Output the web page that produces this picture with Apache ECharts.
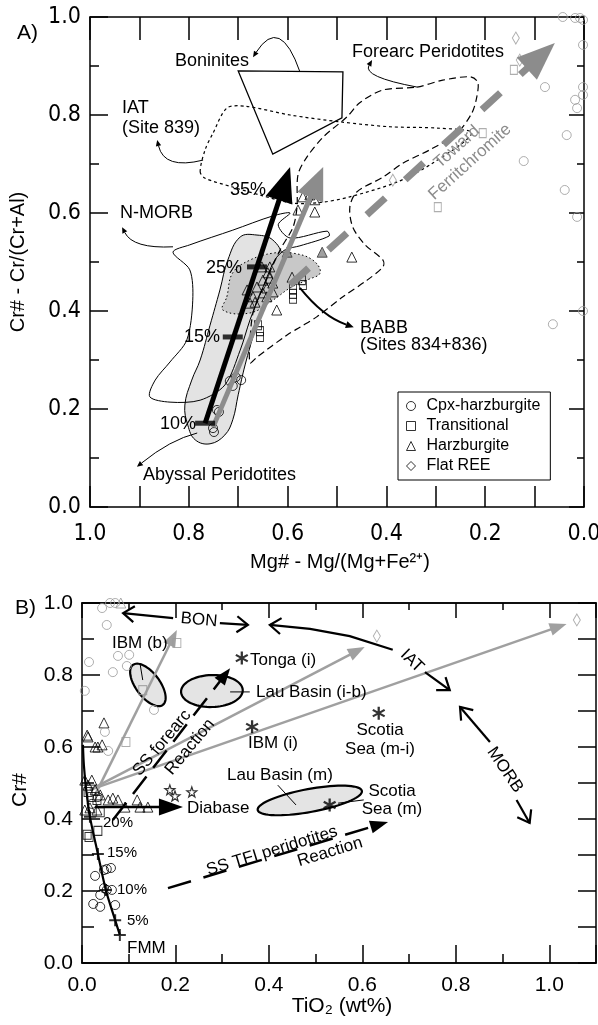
<!DOCTYPE html>
<html>
<head>
<meta charset="utf-8">
<script src="https://cdn.jsdelivr.net/npm/echarts@6.0.0/dist/echarts.min.js"></script>
<style>html,body{margin:0;padding:0;background:#fff}#main{width:598px;height:1025px}</style>
</head>
<body>
<div id="main"></div>
<script>
// ---------- Panel A : Mg# (x, reversed) vs Cr# (y) ----------
var aCpxHarz = [[0.705,0.265],[0.694,0.259],[0.711,0.247],[0.717,0.257],[0.743,0.198],[0.739,0.194],[0.751,0.161],[0.749,0.153]];
var aTransitional = [[0.660,0.371],[0.656,0.359],[0.656,0.347],[0.589,0.445],[0.589,0.435],[0.589,0.425],[0.571,0.463],[0.569,0.453]];
var aHarzburgite = [[0.652,0.490],[0.636,0.490],[0.640,0.478],[0.650,0.463],[0.636,0.467],[0.630,0.457],[0.662,0.449],[0.682,0.443],
  [0.642,0.447],[0.630,0.439],[0.650,0.437],[0.642,0.429],[0.670,0.429],[0.666,0.418],[0.676,0.416],[0.622,0.402],[0.591,0.469],
  [0.569,0.633],[0.545,0.627],[0.579,0.606],[0.545,0.602],[0.470,0.510],[0.555,0.637]];
var aHarzGrayFill = [[0.601,0.520],[0.530,0.520]];
var aCpxGray = [[0.043,1.000],[0.018,0.998],[0.008,0.998],[0.002,0.994],[0.002,0.943],[0.079,0.857],[0.002,0.857],[0.018,0.831],
  [0.014,0.814],[0.002,0.841],[0.035,0.759],[0.122,0.706],[0.039,0.647],[0.014,0.592],[0.063,0.373],[0.002,0.400]];
var aTransGray = [[0.142,0.892],[0.205,0.763],[0.296,0.612]];
var aFlatREE = [[0.138,0.957],[0.130,0.912],[0.387,0.667]];

// fields
var aBoninites = [[0.700,0.890],[0.488,0.888],[0.490,0.794],[0.630,0.720]];
var aIAT = [[0.777,0.684],[0.767,0.729],[0.751,0.763],[0.723,0.814],[0.686,0.818],[0.595,0.800],[0.494,0.786],[0.393,0.776],
  [0.292,0.773],[0.227,0.763],[0.306,0.702],[0.379,0.663],[0.474,0.633],[0.530,0.622],[0.589,0.620],[0.650,0.635],[0.711,0.653],[0.767,0.671]];
var aForearc = [[0.338,0.857],[0.286,0.871],[0.231,0.878],[0.215,0.867],[0.217,0.837],[0.227,0.804],[0.257,0.763],[0.312,0.729],
  [0.366,0.702],[0.407,0.673],[0.460,0.643],[0.474,0.612],[0.468,0.571],[0.443,0.535],[0.407,0.504],[0.407,0.490],[0.439,0.463],
  [0.488,0.429],[0.541,0.388],[0.575,0.367],[0.601,0.351],[0.662,0.306],[0.676,0.294],[0.676,0.341],[0.670,0.396],[0.652,0.443],
  [0.615,0.525],[0.589,0.571],[0.581,0.612],[0.579,0.678],[0.561,0.714],[0.528,0.755],[0.480,0.796],[0.454,0.825],[0.407,0.851]];
var aNMORB = [[0.879,0.225],[0.868,0.259],[0.838,0.296],[0.804,0.341],[0.792,0.422],[0.798,0.484],[0.832,0.520],[0.798,0.535],
  [0.711,0.565],[0.630,0.594],[0.595,0.600],[0.619,0.576],[0.595,0.549],[0.520,0.563],[0.516,0.553],[0.575,0.533],[0.605,0.525],
  [0.626,0.504],[0.652,0.443],[0.676,0.382],[0.696,0.320],[0.727,0.249],[0.777,0.218],[0.838,0.214]];
var aAbyssal = [[0.696,0.551],[0.662,0.555],[0.630,0.545],[0.611,0.510],[0.626,0.474],[0.646,0.422],[0.666,0.361],[0.686,0.290],
  [0.700,0.229],[0.711,0.178],[0.727,0.147],[0.757,0.129],[0.787,0.137],[0.802,0.167],[0.808,0.208],[0.794,0.259],[0.777,0.300],
  [0.757,0.371],[0.737,0.443],[0.721,0.504]];
var aBABB = [[0.723,0.429],[0.711,0.478],[0.676,0.504],[0.630,0.518],[0.589,0.518],[0.549,0.504],[0.534,0.478],[0.561,0.463],
  [0.595,0.447],[0.630,0.422],[0.676,0.396],[0.731,0.402]];

// trends
var aMeltTrend = [[0.767,0.171],[0.595,0.694]];
var aMeltTicks = [[0.767,0.171],[0.711,0.347],[0.662,0.490]];
var aGrayTrend = [[0.751,0.163],[0.528,0.694]];
var aFerriTrend = [[0.595,0.453],[0.059,0.947]];

// leaders: start, control, end
var aLeadBon = [[0.575,0.888],[0.615,1.004],[0.670,0.918]];
var aLeadIAT = [[0.771,0.708],[0.850,0.688],[0.864,0.749]];
var aLeadFore = [[0.338,0.857],[0.449,0.878],[0.429,0.912]];
var aLeadMorb = [[0.832,0.531],[0.913,0.527],[0.935,0.571]];
var aLeadAbys = [[0.783,0.151],[0.838,0.137],[0.905,0.082]];
var aLeadBabb = [[0.575,0.447],[0.528,0.388],[0.466,0.367]];

// ---------- Panel B : TiO2 (x) vs Cr# (y) ----------
var bCpxHarz = [[0.028,0.242],[0.039,0.189],[0.024,0.164],[0.039,0.156],[0.071,0.161],[0.053,0.261],[0.062,0.264],[0.047,0.258],
  [0.053,0.203],[0.064,0.203],[0.047,0.208],[0.034,0.461],[0.021,0.442]];
var bTransitional = [[0.021,0.461],[0.032,0.453],[0.013,0.475],[0.011,0.356],[0.015,0.350],[0.034,0.367],[0.039,0.419]];
var bHarzburgite = [[0.047,0.667],[0.011,0.633],[0.034,0.600],[0.043,0.606],[0.028,0.600],[0.013,0.628],[0.006,0.508],[0.021,0.508],
  [0.013,0.494],[0.056,0.453],[0.066,0.458],[0.077,0.453],[0.118,0.453],[0.124,0.433],[0.141,0.433],[0.092,0.433],[0.006,0.425],
  [0.017,0.431],[0.032,0.425],[0.028,0.481],[0.039,0.467]];
var bCpxGray = [[0.043,0.986],[0.060,1.000],[0.071,1.000],[0.053,0.939],[0.015,0.836],[0.077,0.853],[0.101,0.856],[0.096,0.825],
  [0.066,0.808],[0.006,0.756],[0.154,0.703],[0.049,0.642],[0.056,0.589]];
var bTransGray = [[0.203,0.889],[0.130,0.758],[0.094,0.614]];
var bHarzGray = [[0.083,1.000]];
var bFlatREE = [[0.631,0.908],[1.059,0.953]];
var bDiabase = [[0.188,0.481],[0.199,0.464],[0.235,0.475]];
var bGlassNames = ['Tonga (i)', 'IBM (i)', 'Scotia Sea (m-i)', 'Scotia Sea (m)'];
var bGlassAvg = [[0.342,0.847],[0.364,0.656],[0.635,0.694],[0.530,0.439]];
var bFmmCurve = [[0.081,0.078],[0.071,0.119],[0.051,0.203],[0.034,0.303],[0.017,0.406],[0.009,0.481],[0.004,0.550],[0.002,0.606]];
var bFmmTicks = [[0.081,0.078],[0.071,0.119],[0.051,0.203],[0.034,0.303],[0.017,0.406]];
var bFmmLabels = ['FMM', '5%', '10%', '15%', '20%'];

// fields as long-axis end points
var bIbmB = [[0.109,0.828],[0.173,0.717]];
var bLauIB = [[0.212,0.753],[0.344,0.758]];
var bLauM = [[0.376,0.425],[0.599,0.478]];

// trends
var bToIbmB = [[0.028,0.467],[0.203,0.925]];
var bToTonga = [[0.017,0.481],[0.605,0.878]];
var bToFar = [[0.017,0.481],[1.037,0.942]];
var bDiabaseArrow = [[0.028,0.433],[0.216,0.433]];
var bForearcReaction = [[0.066,0.397],[0.317,0.819]];
var bTfiReaction = [[0.184,0.208],[0.655,0.392]];
var bBonLeft = [[0.195,0.958],[0.088,0.972]];
var bBonRight = [[0.295,0.944],[0.355,0.939]];
var bIatLeft = [[0.665,0.870],[0.573,0.908],[0.488,0.928],[0.402,0.939]];
var bIatRight = [[0.734,0.808],[0.787,0.758]];
var bMorbUp = [[0.873,0.614],[0.809,0.711]];
var bMorbDown = [[0.930,0.453],[0.958,0.389]];
var bLeaders = [
  [[0.124,0.833],[0.130,0.786]],
  [[0.317,0.753],[0.359,0.753]],
  [[0.419,0.494],[0.458,0.439]],
  [[0.548,0.444],[0.603,0.453]]
];

var SANS = "'Liberation Sans', Arial, sans-serif";
var NARROW = "'Liberation Sans Narrow', 'Arial Narrow', 'DejaVu Sans Condensed', sans-serif";
var GRAY = '#8c8c8c';
var LIGHT = '#9a9a9a';
var STAR = 'path://M0,-10L2.351,-3.236L9.511,-3.09L3.804,1.236L5.878,8.09L0,4L-5.878,8.09L-3.804,1.236L-9.511,-3.09L-2.351,-3.236Z';
var ASTER = 'path://M-1,-6L1,-6L1,6L-1,6Z M4.696,-3.866L5.696,-2.134L-4.696,3.866L-5.696,2.134Z M5.696,2.134L4.696,3.866L-5.696,-2.134L-4.696,-3.866Z';
var PLUS = 'path://M-6,-1L6,-1L6,1L-6,1Z M-1,-6L1,-6L1,6L-1,6Z';

var myChart = echarts.init(document.getElementById('main'));

function hollow(c) { return { color: 'rgba(0,0,0,0)', borderColor: c, borderWidth: 1 }; }

function valueAxis(o) {
  return {
    type: 'value', gridIndex: o.grid, position: o.pos, min: 0, max: o.max, interval: o.interval, inverse: !!o.inverse,
    axisLine: { show: true, onZero: false, lineStyle: { color: '#000', width: 1.5 } },
    axisTick: { show: true, inside: true, length: o.tick, lineStyle: { color: '#000', width: 1.5 } },
    minorTick: { show: !!o.minor, splitNumber: 2, length: o.minor || 0, lineStyle: { color: '#000', width: 1.5 } },
    splitLine: { show: false }, minorSplitLine: { show: false },
    axisLabel: o.label ? { show: true, margin: o.margin, color: '#000', fontSize: o.size, fontFamily: o.font, formatter: o.label } : { show: false },
    silent: true
  };
}

function scatter(name, grid, data, symbol, size, style, z) {
  return { name: name, type: 'scatter', xAxisIndex: grid, yAxisIndex: grid, data: data, symbol: symbol, symbolSize: size,
    itemStyle: style, clip: false, silent: true, z: z || 5, animation: false };
}

function drawing(grid, z, draw) {
  return { type: 'custom', xAxisIndex: grid, yAxisIndex: grid, z: z, silent: true, animation: false,
    data: [[0.5, 0.5]], renderItem: function (params, api) { return { type: 'group', children: draw(api) }; } };
}

function region(pts, style, smooth) {
  return function (api) {
    return [{ type: 'polygon', shape: { points: pts.map(function (p) { return api.coord(p); }), smooth: smooth || 0 }, style: style }];
  };
}

function arrowEls(api, pts, o) {
  var p = pts.map(function (q) { return api.coord(q); });
  var n = p.length, a = p[n - 2], b = p[n - 1];
  var dx = b[0] - a[0], dy = b[1] - a[1], L = Math.sqrt(dx * dx + dy * dy), ux = dx / L, uy = dy / L;
  var bx = b[0] - ux * o.head, by = b[1] - uy * o.head, w = o.wid / 2;
  var left = [bx - uy * w, by + ux * w], right = [bx + uy * w, by - ux * w];
  var line = p.slice();
  if (o.fill) line[n - 1] = [bx + ux * 2, by + uy * 2];
  var els = [{ type: 'polyline', shape: { points: line }, style: { stroke: o.color, lineWidth: o.width, lineDash: o.dash || null, fill: null } }];
  if (o.fill) els.push({ type: 'polygon', shape: { points: [b, left, right] }, style: { fill: o.color } });
  else els.push({ type: 'polyline', shape: { points: [left, b, right] }, style: { stroke: o.color, lineWidth: o.width, fill: null } });
  return els;
}

function leaderEls(api, l, w, head) {
  var p0 = api.coord(l[0]), c = api.coord(l[1]), p1 = api.coord(l[2]);
  var dx = p1[0] - c[0], dy = p1[1] - c[1], L = Math.sqrt(dx * dx + dy * dy), ux = dx / L, uy = dy / L;
  var bx = p1[0] - ux * head, by = p1[1] - uy * head, hw = head * 0.45;
  return [
    { type: 'bezierCurve', shape: { x1: p0[0], y1: p0[1], cpx1: c[0], cpy1: c[1], x2: bx, y2: by }, style: { stroke: '#000', lineWidth: w, fill: null } },
    { type: 'polygon', shape: { points: [p1, [bx - uy * hw, by + ux * hw], [bx + uy * hw, by - ux * hw]] }, style: { fill: '#000' } }
  ];
}

function ellipseEls(api, ends, minor) {
  var a = api.coord(ends[0]), b = api.coord(ends[1]);
  var cx = (a[0] + b[0]) / 2, cy = (a[1] + b[1]) / 2;
  var ang = Math.atan2(b[1] - a[1], b[0] - a[0]);
  var R = Math.sqrt((b[0] - a[0]) * (b[0] - a[0]) + (b[1] - a[1]) * (b[1] - a[1])) / 2, r = minor / 2;
  var pts = [];
  for (var i = 0; i < 72; i++) {
    var t = i / 72 * 2 * Math.PI, ex = R * Math.cos(t), ey = r * Math.sin(t);
    pts.push([cx + ex * Math.cos(ang) - ey * Math.sin(ang), cy + ex * Math.sin(ang) + ey * Math.cos(ang)]);
  }
  return [{ type: 'polygon', shape: { points: pts }, style: { fill: '#e4e4e4', stroke: '#000', lineWidth: 2.2 } }];
}

function txt(x, y, s, o) {
  o = o || {};
  var al = o.align || 'left';
  return { type: 'text', x: x, y: y, rotation: (o.rot || 0) * Math.PI / 180, z: 100, silent: true,
    style: { text: s, fill: o.color || '#000', font: (o.size || 18) + 'px ' + SANS,
      textAlign: al, align: al, textVerticalAlign: 'middle', verticalAlign: 'middle' } };
}

function evenTenth(v) { var k = Math.round(v * 10); return k % 2 === 0 ? (k / 10).toFixed(1) : ''; }
function oneDec(v) { return v > 1.05 ? '' : v.toFixed(1); }

var option = {
  backgroundColor: '#fff',
  animation: false,
  grid: [
    { left: 90, top: 17, width: 494, height: 490, containLabel: false, outerBoundsMode: 'none' },
    { left: 82, top: 603, width: 514, height: 360, containLabel: false, outerBoundsMode: 'none' }
  ],
  xAxis: [
    valueAxis({ grid: 0, pos: 'bottom', max: 1, interval: 0.1, inverse: true, tick: 21, label: evenTenth, margin: 16, size: 23, font: NARROW }),
    valueAxis({ grid: 0, pos: 'top', max: 1, interval: 0.1, inverse: true, tick: 23 }),
    valueAxis({ grid: 1, pos: 'bottom', max: 1.1, interval: 0.2, tick: 18, label: oneDec, margin: 12, size: 21, font: SANS }),
    valueAxis({ grid: 1, pos: 'bottom', max: 1.1, interval: 0.1, tick: 9 }),
    valueAxis({ grid: 1, pos: 'top', max: 1.1, interval: 0.2, tick: 15 }),
    valueAxis({ grid: 1, pos: 'top', max: 1.1, interval: 0.1, tick: 7 })
  ],
  yAxis: [
    valueAxis({ grid: 0, pos: 'left', max: 1, interval: 0.2, tick: 18, minor: 9, label: oneDec, margin: 9, size: 23, font: NARROW }),
    valueAxis({ grid: 0, pos: 'right', max: 1, interval: 0.2, tick: 15, minor: 7 }),
    valueAxis({ grid: 1, pos: 'left', max: 1, interval: 0.2, tick: 18, minor: 12, label: oneDec, margin: 9, size: 21, font: SANS }),
    valueAxis({ grid: 1, pos: 'right', max: 1, interval: 0.1, tick: 18 })
  ],
  legend: {
    left: 398, top: 392, orient: 'vertical', padding: [6, 10, 6, 8],
    borderColor: '#000', borderWidth: 1, itemWidth: 9, itemHeight: 9, itemGap: 4,
    textStyle: { fontSize: 16, fontFamily: SANS, color: '#000', padding: [0, 0, 0, 6] },
    selectedMode: false,
    data: [
      { name: 'Cpx-harzburgite', icon: 'circle', itemStyle: hollow('#000') },
      { name: 'Transitional', icon: 'rect', itemStyle: hollow('#000') },
      { name: 'Harzburgite', icon: 'triangle', itemStyle: hollow('#000') },
      { name: 'Flat REE', icon: 'diamond', itemStyle: hollow('#000') }
    ]
  },
  series: [
    // ---- panel A fields
    drawing(0, 1, region(aAbyssal, { fill: '#e3e3e3', stroke: '#000', lineWidth: 1 }, 0.4)),
    drawing(0, 2, region(aBABB, { fill: '#c8c8c8', stroke: '#000', lineWidth: 1, lineDash: [1.5, 2.5] }, 0.4)),
    drawing(0, 3, region(aNMORB, { fill: 'none', stroke: '#000', lineWidth: 1 }, 0.3)),
    drawing(0, 3, region(aIAT, { fill: 'none', stroke: '#000', lineWidth: 1.2, lineDash: [3, 3] }, 0.3)),
    drawing(0, 3, region(aForearc, { fill: 'none', stroke: '#000', lineWidth: 1.2, lineDash: [7, 4] }, 0.3)),
    drawing(0, 3, region(aBoninites, { fill: 'none', stroke: '#000', lineWidth: 1.3 }, 0)),
    drawing(0, 4, function (api) {
      return [].concat(
        leaderEls(api, aLeadBon, 1, 6), leaderEls(api, aLeadIAT, 1, 6), leaderEls(api, aLeadFore, 1, 6),
        leaderEls(api, aLeadMorb, 1, 6), leaderEls(api, aLeadAbys, 1, 6), leaderEls(api, aLeadBabb, 2, 8));
    }),
    // ---- panel A samples
    scatter('Cpx-harzburgite', 0, aCpxHarz, 'circle', 9, hollow('#000')),
    scatter('Transitional', 0, aTransitional, 'rect', [7, 9], hollow('#000')),
    scatter('Harzburgite', 0, aHarzburgite, 'triangle', 10, hollow('#000')),
    scatter('Harzburgite (altered)', 0, aHarzGrayFill, 'triangle', 10, { color: '#888', borderColor: '#333', borderWidth: 1 }),
    scatter('Cpx-harzburgite (altered)', 0, aCpxGray, 'circle', 9, hollow(LIGHT)),
    scatter('Transitional (altered)', 0, aTransGray, 'rect', [7, 9], hollow(LIGHT)),
    scatter('Flat REE', 0, aFlatREE, 'diamond', [7, 12], hollow(LIGHT)),
    // ---- panel A trends
    drawing(0, 6, function (api) { return arrowEls(api, aFerriTrend, { color: GRAY, width: 7, dash: [25, 27], head: 38, wid: 30, fill: true }); }),
    drawing(0, 6, function (api) { return arrowEls(api, aGrayTrend, { color: GRAY, width: 5, head: 33, wid: 28, fill: true }); }),
    drawing(0, 7, function (api) { return arrowEls(api, aMeltTrend, { color: '#000', width: 5, head: 35, wid: 28, fill: true }); }),
    scatter('melt ticks', 0, aMeltTicks, 'rect', [20, 5], { color: '#000' }, 8),

    // ---- panel B fields
    drawing(2, 2, function (api) {
      return [].concat(ellipseEls(api, bIbmB, 24), ellipseEls(api, bLauIB, 32), ellipseEls(api, bLauM, 23));
    }),
    drawing(2, 3, function (api) {
      var o = { color: '#a0a0a0', width: 2.5, head: 17, wid: 13, fill: true };
      return [].concat(arrowEls(api, bToIbmB, o), arrowEls(api, bToTonga, o), arrowEls(api, bToFar, o));
    }),
    drawing(2, 4, function (api) {
      var open = { color: '#000', width: 2.2, head: 11, wid: 16, fill: false };
      var els = [].concat(
        arrowEls(api, bBonLeft, open), arrowEls(api, bBonRight, open), arrowEls(api, bIatLeft, open),
        arrowEls(api, bIatRight, open), arrowEls(api, bMorbUp, open), arrowEls(api, bMorbDown, open),
        arrowEls(api, bDiabaseArrow, { color: '#000', width: 2.5, head: 24, wid: 17, fill: true }),
        arrowEls(api, bForearcReaction, { color: '#000', width: 2.5, dash: [22, 11], head: 17, wid: 13, fill: true }),
        arrowEls(api, bTfiReaction, { color: '#000', width: 2.5, dash: [24, 13], head: 18, wid: 13, fill: true }));
      bLeaders.forEach(function (l) {
        els.push({ type: 'polyline', shape: { points: l.map(function (p) { return api.coord(p); }) }, style: { stroke: '#000', lineWidth: 1, fill: null } });
      });
      els.push({ type: 'polyline', shape: { points: bFmmCurve.map(function (p) { return api.coord(p); }), smooth: 0.3 }, style: { stroke: '#000', lineWidth: 2.2, fill: null } });
      return els;
    }),
    scatter('FMM melting', 2, bFmmTicks, PLUS, 12, { color: '#000' }, 6),
    // ---- panel B samples
    scatter('B Cpx-harzburgite', 2, bCpxHarz, 'circle', 9, hollow('#000')),
    scatter('B Transitional', 2, bTransitional, 'rect', [8, 9], hollow('#000')),
    scatter('B Harzburgite', 2, bHarzburgite, 'triangle', 10, hollow('#000')),
    scatter('B Cpx-harzburgite (altered)', 2, bCpxGray, 'circle', 9, hollow(LIGHT)),
    scatter('B Transitional (altered)', 2, bTransGray, 'rect', [8, 9], hollow(LIGHT)),
    scatter('B Harzburgite (altered)', 2, bHarzGray, 'triangle', 10, hollow(LIGHT)),
    scatter('B Flat REE', 2, bFlatREE, 'diamond', [7, 12], hollow(LIGHT)),
    scatter('Diabase', 2, bDiabase, STAR, 10, { color: '#fff', borderColor: '#000', borderWidth: 1.2 }, 6),
    scatter('Glass averages', 2, bGlassAvg.map(function (p, i) { return { name: bGlassNames[i], value: p }; }), ASTER, 13, { color: '#000' }, 6)
  ],
  graphic: [
    // panel A
    txt(17, 33, 'A)', { size: 21 }),
    txt(175, 61, 'Boninites'),
    txt(122, 108, 'IAT'),
    txt(122, 128, '(Site 839)'),
    txt(120, 213, 'N-MORB'),
    txt(352, 52, 'Forearc Peridotites'),
    txt(230, 190, '35%'),
    txt(206, 268, '25%'),
    txt(184, 337, '15%'),
    txt(160, 424, '10%'),
    txt(360, 328, 'BABB'),
    txt(360, 345, '(Sites 834+836)'),
    txt(143, 475, 'Abyssal Peridotites'),
    txt(457, 147, 'Toward', { rot: 42, color: GRAY, size: 17, align: 'center' }),
    txt(470, 162, 'Ferritchromite', { rot: 42, color: GRAY, size: 17, align: 'center' }),
    txt(340, 562, 'Mg# - Mg/(Mg+Fe²⁺)', { size: 20, align: 'center' }),
    txt(18, 262, 'Cr# - Cr/(Cr+Al)', { size: 20, rot: 90, align: 'center' }),
    // panel B
    txt(15, 608, 'B)', { size: 21 }),
    txt(199, 620, 'BON', { rot: -5, size: 17, align: 'center' }),
    txt(112, 643, 'IBM (b)', { size: 17 }),
    txt(250, 660, 'Tonga (i)', { size: 17 }),
    txt(256, 692, 'Lau Basin (i-b)', { size: 17 }),
    txt(273, 743, 'IBM (i)', { size: 17, align: 'center' }),
    txt(380, 730, 'Scotia', { size: 17, align: 'center' }),
    txt(380, 749, 'Sea (m-i)', { size: 17, align: 'center' }),
    txt(227, 775, 'Lau Basin (m)', { size: 17 }),
    txt(392, 791, 'Scotia', { size: 17, align: 'center' }),
    txt(392, 809, 'Sea (m)', { size: 17, align: 'center' }),
    txt(187, 808, 'Diabase', { size: 17 }),
    txt(162, 743, 'SS forearc', { size: 17, rot: 50, align: 'center' }),
    txt(190, 747, 'Reaction', { size: 17, rot: 50, align: 'center' }),
    txt(412, 661, 'IAT', { size: 17, rot: -44, align: 'center' }),
    txt(505, 770, 'MORB', { size: 17, rot: -56, align: 'center' }),
    txt(272, 851, 'SS TFI peridotites', { size: 17, rot: 17, align: 'center' }),
    txt(330, 852, 'Reaction', { size: 17, rot: 17, align: 'center' }),
    txt(127, 948, bFmmLabels[0], { size: 17 }),
    txt(127, 921, bFmmLabels[1], { size: 15 }),
    txt(117, 890, bFmmLabels[2], { size: 15 }),
    txt(107, 853, bFmmLabels[3], { size: 15 }),
    txt(103, 823, bFmmLabels[4], { size: 15 }),
    txt(342, 1006, 'TiO₂ (wt%)', { size: 21, align: 'center' }),
    txt(20, 790, 'Cr#', { size: 21, rot: 90, align: 'center' })
  ]
};

myChart.setOption(option);
</script>
</body>
</html>
